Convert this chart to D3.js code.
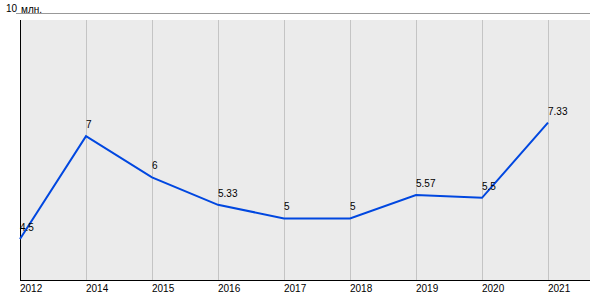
<!DOCTYPE html>
<html>
<head>
<meta charset="utf-8">
<script src="https://cdn.jsdelivr.net/npm/d3@7"></script>
<style>
  body { margin: 0; background: #fff; }
  svg { display: block; font-family: "Liberation Sans", Arial, sans-serif; }
</style>
</head>
<body>
<svg id="chart" width="600" height="300"></svg>
<script>
var years = ["2012", "2014", "2015", "2016", "2017", "2018", "2019", "2020", "2021"];
var values = [4.5, 7, 6, 5.33, 5, 5, 5.57, 5.5, 7.33];
var labels = ["4.5", "7", "6", "5.33", "5", "5", "5.57", "5.5", "7.33"];
var yMax = 10, yMin = 3.5;
var unit = "млн.";

var svg = d3.select("#chart");

var plotLeft = 20, plotRight = 590, plotTop = 13, plotBottom = 280, bgTop = 20;

var x = d3.scalePoint()
  .domain(years)
  .range([plotLeft, 548]);

var y = d3.scaleLinear()
  .domain([yMin, yMax])
  .range([plotBottom, plotTop]);

// plot background
svg.append("rect")
  .attr("x", plotLeft)
  .attr("y", bgTop)
  .attr("width", plotRight - plotLeft)
  .attr("height", plotBottom - bgTop)
  .attr("fill", "#ebebeb");

// top line at the max value
svg.append("line")
  .attr("x1", 16).attr("x2", plotRight)
  .attr("y1", Math.round(y(yMax)) + 0.5).attr("y2", Math.round(y(yMax)) + 0.5)
  .attr("stroke", "#999");

svg.append("text")
  .attr("x", 6).attr("y", 12)
  .attr("font-size", 10)
  .attr("fill", "#000")
  .text(yMax);

svg.append("text")
  .attr("x", 21).attr("y", 13)
  .attr("font-size", 10)
  .attr("fill", "#000")
  .text(unit);

// vertical grid
svg.append("g")
  .selectAll("line")
  .data(years.slice(1))
  .enter().append("line")
  .attr("x1", d => Math.round(x(d)) + 0.5)
  .attr("x2", d => Math.round(x(d)) + 0.5)
  .attr("y1", bgTop).attr("y2", plotBottom)
  .attr("stroke", "#c4c4c4");

// axes lines
svg.append("line")
  .attr("x1", plotLeft + 0.5).attr("x2", plotLeft + 0.5)
  .attr("y1", bgTop).attr("y2", plotBottom)
  .attr("stroke", "#000");

svg.append("line")
  .attr("x1", plotLeft).attr("x2", plotRight)
  .attr("y1", plotBottom + 0.5).attr("y2", plotBottom + 0.5)
  .attr("stroke", "#000");

// x labels
svg.append("g")
  .selectAll("text")
  .data(years)
  .enter().append("text")
  .attr("x", d => x(d))
  .attr("y", 292)
  .attr("font-size", 10)
  .attr("fill", "#000")
  .text(d => d);

// line
var line = d3.line()
  .x((d, i) => x(years[i]))
  .y(d => y(d));

svg.append("path")
  .datum(values)
  .attr("d", line)
  .attr("fill", "none")
  .attr("stroke", "#0047e0")
  .attr("stroke-width", 2);

// value labels
svg.append("g")
  .selectAll("text")
  .data(values)
  .enter().append("text")
  .attr("x", (d, i) => x(years[i]))
  .attr("y", d => y(d) - 8)
  .attr("font-size", 10)
  .attr("fill", "#000")
  .text((d, i) => labels[i]);
</script>
</body>
</html>
